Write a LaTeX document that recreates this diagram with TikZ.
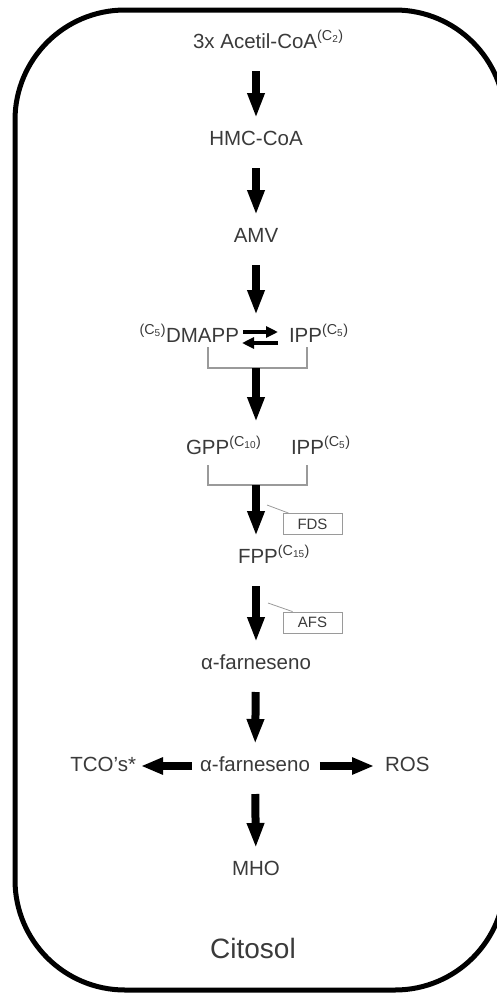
\documentclass[tikz,border=0pt]{standalone}
\usepackage{fontspec}
\setmainfont{Liberation Sans}
\usetikzlibrary{arrows.meta}
\definecolor{txt}{HTML}{3A3A3A}
\definecolor{lead}{HTML}{9A9A9A}
\newcommand\carb[1]{\textsuperscript{(C\textsubscript{#1})}}
\begin{document}
\begin{tikzpicture}[x=1pt,y=-1pt,
  lbl/.style={font=\fontsize{20.5}{22}\selectfont, text=txt, inner sep=0pt, text height=14.5pt, text depth=4.5pt, outer ysep=15.5pt, outer xsep=0pt},
  bigarrow/.style={line width=8pt, -{Triangle[width=16pt,length=25pt]}, shorten <=3pt, shorten >=-3pt},
  sidearrow/.style={line width=8pt, -{Triangle[width=16pt,length=22pt]}},
  eqarrow/.style={line width=4.5pt, -{Triangle[width=11pt,length=12pt]}},
  bracket/.style={draw=lead, line width=1.2pt},
  enz/.style={draw=lead, line width=0.8pt, font=\fontsize{15}{17}\selectfont, text=txt, minimum width=59pt, minimum height=21pt, inner sep=0pt},
  leader/.style={draw=lead, line width=0.8pt}]
\useasboundingbox (0,0) rectangle (497,993);
\draw[line width=5pt, rounded corners=110pt] (15,10) rectangle (505,990);

\node[lbl, anchor=west] (acetil) at (193,43) {3x Acetil-CoA\carb{2}};
\node[lbl] (hmc) at (256,140) {HMC-CoA};
\node[lbl] (amv) at (256,237) {AMV};
\node[lbl, anchor=east] (dmapp) at (239,337) {\carb{5}DMAPP};
\node[lbl, anchor=west] (ipp1) at (289,337) {IPP\carb{5}};
\node[lbl, anchor=west] (gpp) at (186,449) {GPP\carb{10}};
\node[lbl, anchor=west] (ipp2) at (291,449) {IPP\carb{5}};
\node[lbl, anchor=west] (fpp) at (238,558) {FPP\carb{15}};
\node[lbl] (farn1) at (256,664) {α-farneseno};
\node[lbl] (farn2) at (255,766) {α-farneseno};
\node[lbl, anchor=east] (tco) at (136,766) {TCO’s*};
\node[lbl, anchor=west] (ros) at (385,766) {ROS};
\node[lbl] (mho) at (256,870) {MHO};
\node[font=\fontsize{28}{30}\selectfont, text=txt, inner sep=0pt] (cit) at (253,948) {Citosol};

\node[enz] (fds) at (312.5,524) {FDS};
\node[enz] (afs) at (312.5,622.5) {AFS};

\coordinate (b1l) at (208,347);
\coordinate (b1r) at (307,347);
\coordinate (b1) at (256,368);
\coordinate (gppin) at (256,419);
\coordinate (b2l) at (208,465);
\coordinate (b2r) at (307,465);
\coordinate (b2) at (256,485);
\coordinate (fdsl) at (267,505);
\coordinate (afsl) at (268,603);

\draw[bigarrow] (acetil.south -| hmc) -- (hmc);
\draw[bigarrow] (hmc) -- (amv);
\draw[bigarrow] (amv) -- (amv |- dmapp.north);
\draw[eqarrow] ([xshift=4pt,yshift=5pt]dmapp.east) -- ([xshift=-11pt,yshift=5pt]ipp1.west);
\draw[eqarrow] ([xshift=-11pt,yshift=-6pt]ipp1.west) -- ([xshift=3pt,yshift=-6pt]dmapp.east);
\draw[bracket] (b1l) |- (b1) -| (b1r);
\draw[bigarrow, shorten <=0pt] (b1) -- (gppin);
\draw[bracket] (b2l) |- (b2) -| (b2r);
\draw[bigarrow, shorten <=0pt] (b2) -- (b2 |- fpp.north);
\draw[leader] (fdsl) -- ([xshift=6pt]fds.north west);
\draw[bigarrow] (farn1 |- fpp.south) -- (farn1);
\draw[leader] (afsl) -- ([xshift=10pt]afs.north west);
\draw[bigarrow] (farn1) -- (farn2);
\draw[sidearrow] ([xshift=-8pt]farn2.west) -- ([xshift=5pt]tco.east);
\draw[sidearrow] ([xshift=10pt]farn2.east) -- ([xshift=-11pt]ros.west);
\draw[bigarrow] (farn2) -- (mho);
\end{tikzpicture}
\end{document}
